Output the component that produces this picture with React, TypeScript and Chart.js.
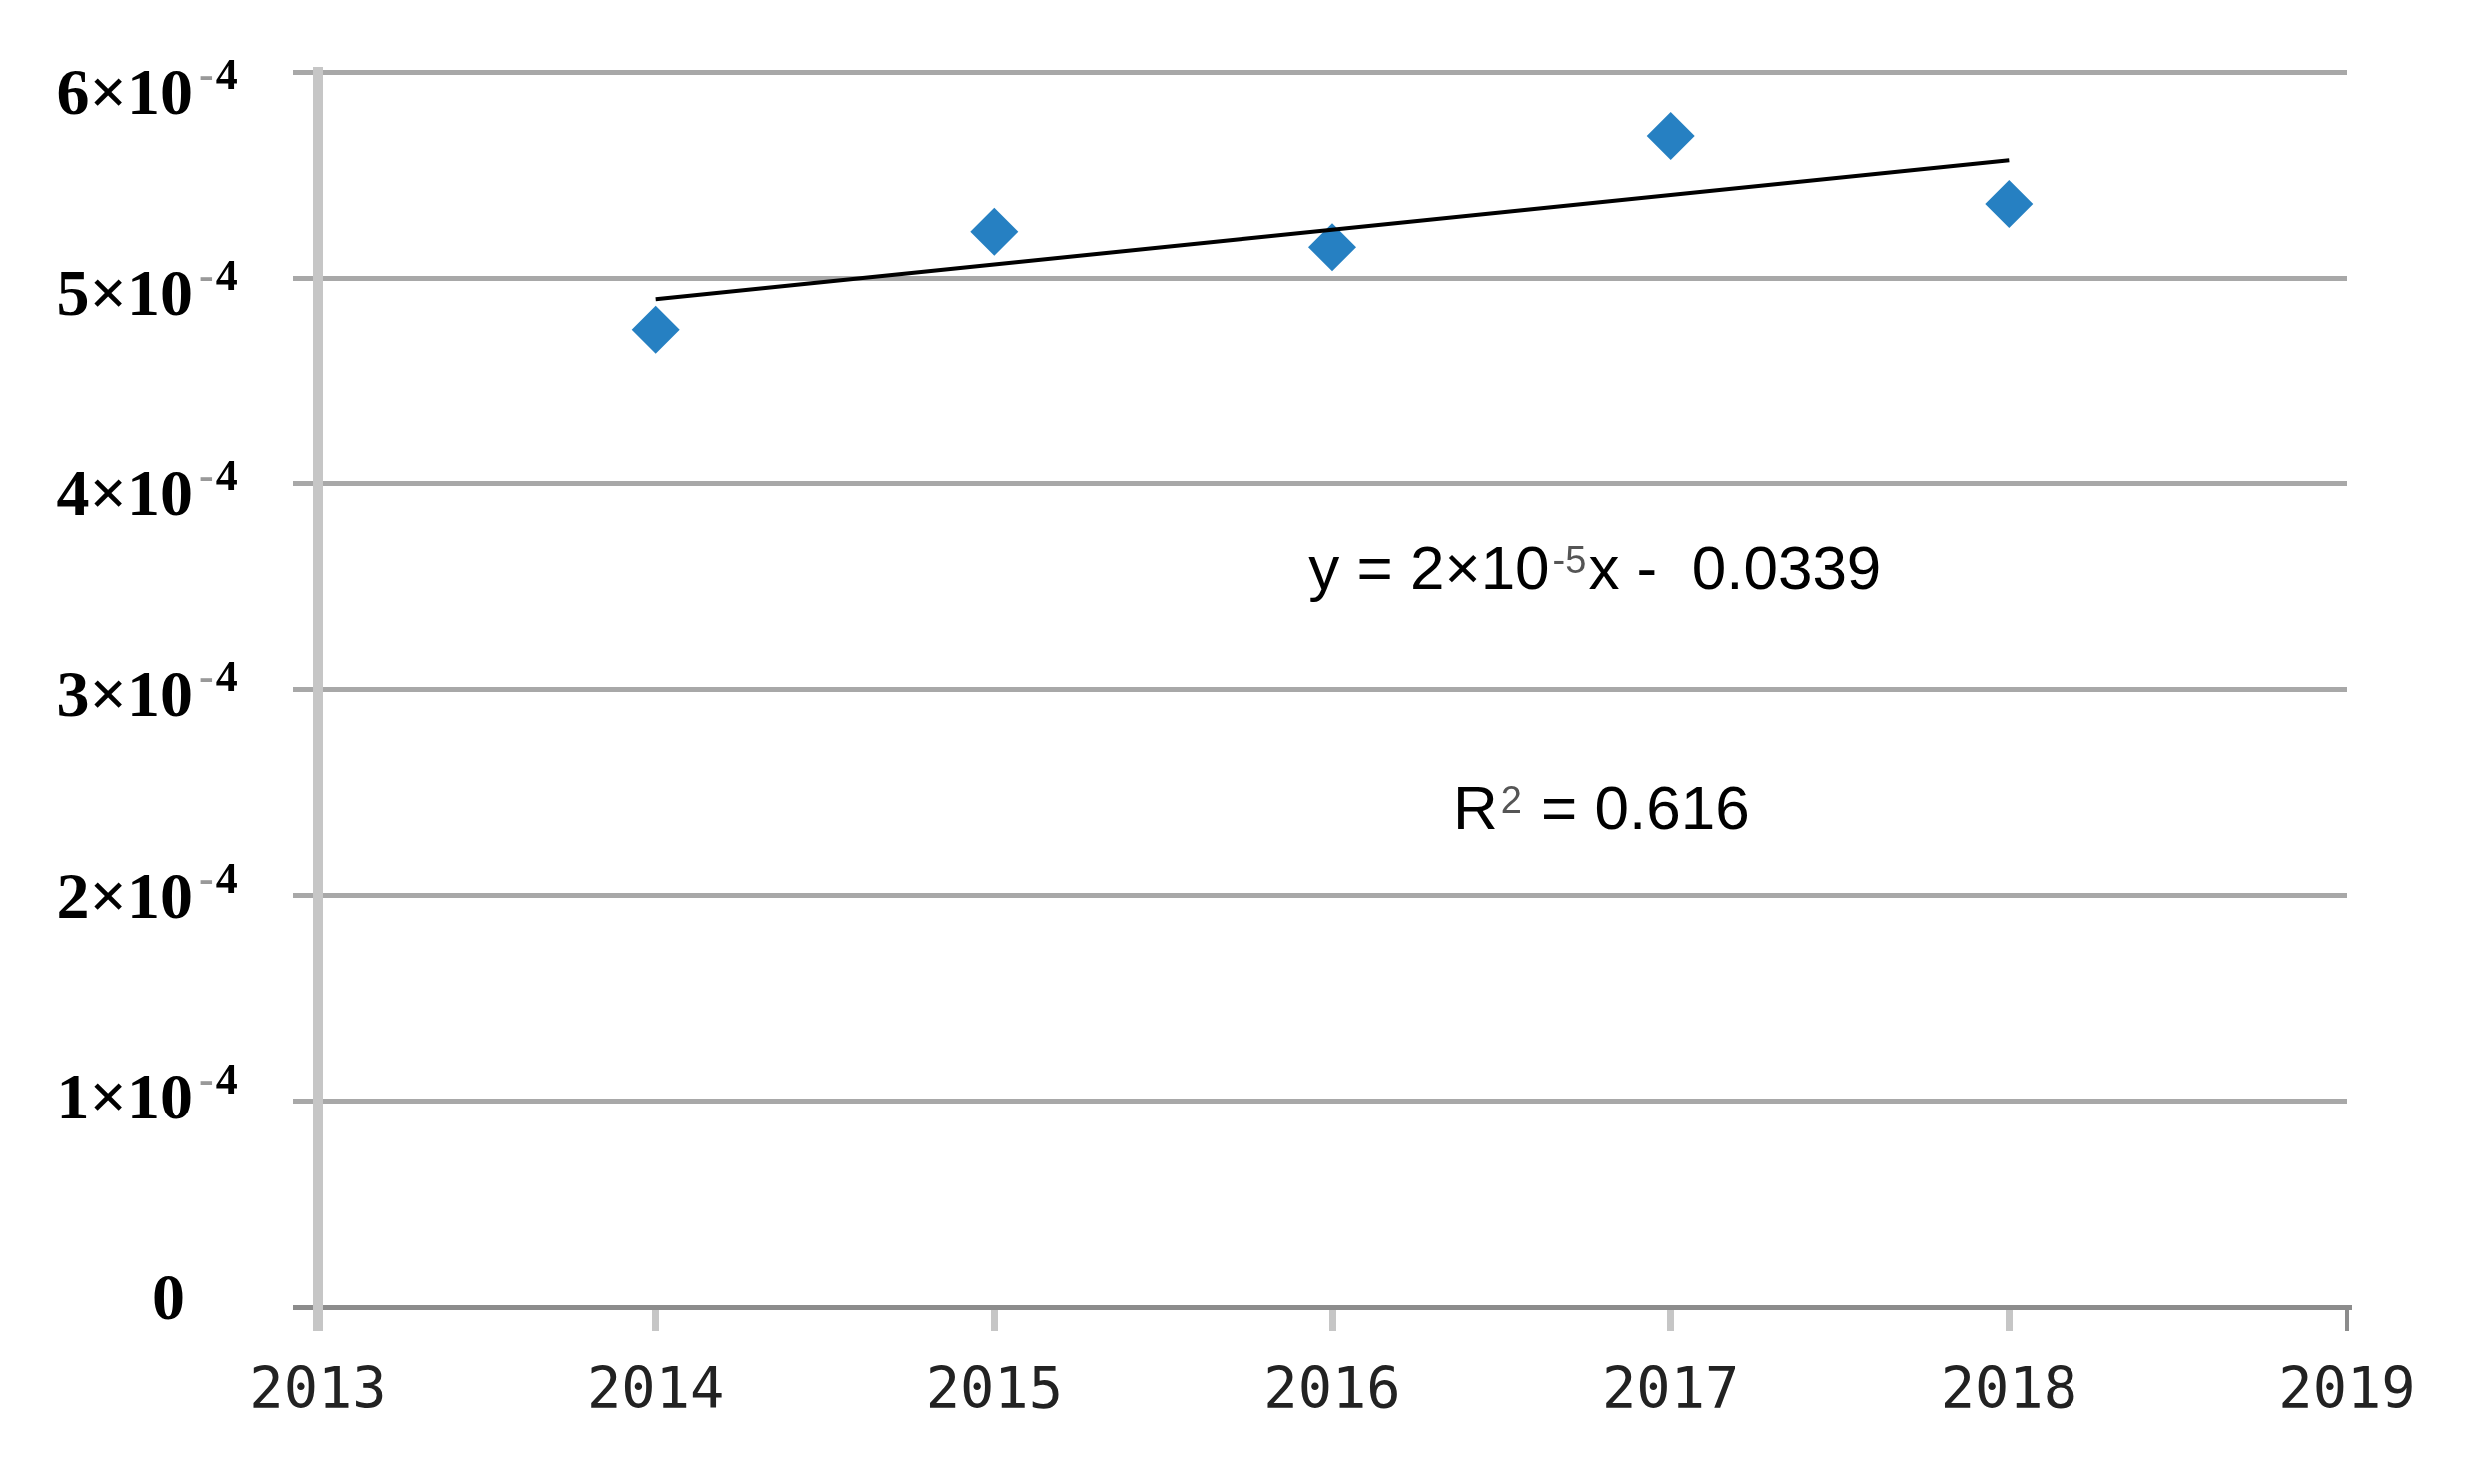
import React, { useEffect, useRef } from 'react';
import { Chart, registerables } from 'chart.js';

Chart.register(...registerables);

// ---- data ----
const YEARS = [2014, 2015, 2016, 2017, 2018];
const VALUES = [0.000475, 0.0005225, 0.000515, 0.000569, 0.000536];
const X_MIN = 2013;
const X_MAX = 2019;
const Y_MANTISSAS = [0, 1, 2, 3, 4, 5, 6];
const Y_UNIT = 1e-4;
const Y_EXPONENT_TEXT = '-4';
const EQUATION_MAIN = 'y = 2×10';
const EQUATION_SUP = '-5';
const EQUATION_TAIL = 'x -  0.0339';
const R2_MAIN = 'R';
const R2_SUP = '2';
const R2_TAIL = ' = 0.616';
// anchors for annotation text, in data units
const EQ_ANCHOR = { x: 2015.93, y: 0.0003592 };
const R2_ANCHOR = { x: 2016.357, y: 0.0002432 };

function linearFit(xs: number[], ys: number[]) {
  const n = xs.length;
  const mx = xs.reduce((a, b) => a + b, 0) / n;
  const my = ys.reduce((a, b) => a + b, 0) / n;
  let sxy = 0;
  let sxx = 0;
  for (let i = 0; i < n; i++) {
    sxy += (xs[i] - mx) * (ys[i] - my);
    sxx += (xs[i] - mx) * (xs[i] - mx);
  }
  const slope = sxy / sxx;
  return (x: number) => my + slope * (x - mx);
}

const fit = linearFit(YEARS, VALUES);
const TREND = [YEARS[0], YEARS[YEARS.length - 1]].map((x) => ({ x, y: fit(x) }));
const POINTS = YEARS.map((x, i) => ({ x, y: VALUES[i] }));

const SERIF = '"Liberation Serif", "Times New Roman", serif';
const SANS = '"Liberation Sans", Arial, sans-serif';

const textPlugin = {
  id: 'customText',
  afterDraw(chart: any) {
    const ctx: CanvasRenderingContext2D = chart.ctx;
    const ys = chart.scales.y;
    const xs = chart.scales.x;
    const area = chart.chartArea;
    ctx.save();
    ctx.textBaseline = 'alphabetic';
    // y-axis labels
    const rightEdge = area.left - 125;
    for (const m of Y_MANTISSAS) {
      const py = ys.getPixelForValue(m * Y_UNIT);
      const cy = 21.75 + 0.9757 * py;
      const baseline = cy + 22;
      ctx.font = `bold 66px ${SERIF}`;
      ctx.fillStyle = '#000';
      ctx.textAlign = 'right';
      const main = m === 0 ? '0' : `${m}×10`;
      ctx.fillText(main, m === 0 ? rightEdge - 8 : rightEdge, baseline);
      if (m !== 0) {
        ctx.textAlign = 'left';
        ctx.font = `bold 44px ${SERIF}`;
        const sx = rightEdge + 6;
        ctx.fillStyle = '#999';
        ctx.fillText(Y_EXPONENT_TEXT[0], sx, baseline - 25);
        const w = ctx.measureText(Y_EXPONENT_TEXT[0]).width;
        ctx.fillStyle = '#000';
        ctx.fillText(Y_EXPONENT_TEXT.slice(1), sx + w + 2, baseline - 25);
      }
    }

    const drawSup = (anchor: { x: number; y: number }, main: string, sup: string, tail: string) => {
      let x = xs.getPixelForValue(anchor.x);
      const baseline = ys.getPixelForValue(anchor.y) + 22;
      ctx.textAlign = 'left';
      ctx.font = `62px ${SANS}`;
      ctx.fillStyle = '#000';
      ctx.fillText(main, x, baseline);
      x += ctx.measureText(main).width + 3;
      ctx.font = `38px ${SANS}`;
      ctx.fillStyle = '#555';
      ctx.fillText(sup, x, baseline - 16);
      x += ctx.measureText(sup).width + 2;
      ctx.font = `62px ${SANS}`;
      ctx.fillStyle = '#000';
      ctx.fillText(tail, x, baseline);
    };
    drawSup(EQ_ANCHOR, EQUATION_MAIN, EQUATION_SUP, EQUATION_TAIL);
    drawSup(R2_ANCHOR, R2_MAIN, R2_SUP, R2_TAIL);
    ctx.restore();
  },
};

export default function App() {
  const ref = useRef<HTMLCanvasElement | null>(null);
  useEffect(() => {
    if (!ref.current) return;
    const chart = new Chart(ref.current, {
      type: 'scatter',
      data: {
        datasets: [
          {
            type: 'line',
            label: 'trend',
            data: TREND,
            borderColor: '#000',
            borderWidth: 4,
            pointRadius: 0,
            fill: false,
            order: 0,
          } as any,
          {
            label: 'data',
            data: POINTS,
            pointStyle: 'rectRot',
            pointRadius: 24,
            backgroundColor: '#2680c2',
            borderColor: '#2680c2',
            borderWidth: 0,
            order: 1,
          },
        ],
      },
      options: {
        responsive: false,
        animation: false,
        devicePixelRatio: 1,
        layout: { padding: { left: 293, top: 72, right: 138, bottom: 28 } },
        plugins: { legend: { display: false }, tooltip: { enabled: false } },
        scales: {
          x: {
            type: 'linear',
            min: X_MIN,
            max: X_MAX,
            ticks: {
              stepSize: 1,
              autoSkip: false,
              maxRotation: 0,
              callback: (v: any) => String(v),
              font: { family: '"DejaVu Sans Mono", monospace', size: 57, lineHeight: 1 },
              color: '#222',
              padding: 34,
            },
            grid: {
              drawOnChartArea: false,
              drawTicks: true,
              tickLength: 24,
              color: (c: any) => (c.index === X_MAX - X_MIN ? '#8c8c8c' : '#c6c6c6'),
              lineWidth: (c: any) => (c.index === 0 ? 10 : c.index === X_MAX - X_MIN ? 4 : 7),
            },
            border: { color: '#8c8c8c', width: 5 },
          },
          y: {
            type: 'linear',
            min: 0,
            max: Y_MANTISSAS[Y_MANTISSAS.length - 1] * Y_UNIT,
            ticks: { display: false, stepSize: Y_UNIT },
            grid: {
              color: (c: any) => (c.tick && Math.abs(c.tick.value) < 1e-12 ? '#8c8c8c' : '#a8a8a8'),
              lineWidth: 5,
              tickLength: 25,
            },
            border: { color: '#c6c6c6', width: 10 },
          },
        },
      },
      plugins: [textPlugin],
    });
    return () => chart.destroy();
  }, []);
  return (
    <div style={{ position: 'fixed', left: 0, top: 0, width: 2488, height: 1486, background: '#fff' }}>
      <canvas ref={ref} width={2488} height={1486} style={{ width: 2488, height: 1486, display: 'block' }} />
    </div>
  );
}
